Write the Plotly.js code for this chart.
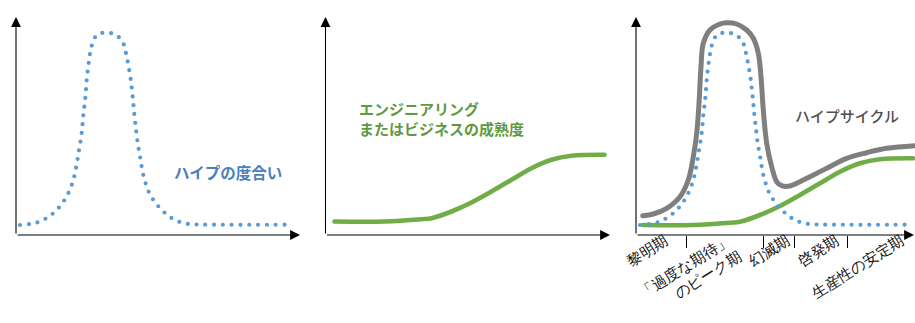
<!DOCTYPE html>
<html><head><meta charset="utf-8">
<script src="https://cdn.plot.ly/plotly-3.0.1.min.js"></script>
<style>
html,body{margin:0;padding:0;background:#fff}
#chart{width:915px;height:323px}
.js-line{stroke-linecap:round;stroke-linejoin:round}
</style>
</head><body><div id="chart"></div>
<script>
// ---- data (time units along x, level units along y) ----
const hypeT = [4, 21.7, 36.7, 48.3, 56, 60, 63, 65.7, 67.3, 69.3, 70.7, 72.7, 75.7, 80, 86, 92, 98, 103, 107.7, 110, 112.5, 114.7, 116.7, 118.3, 120.3, 122, 124.3, 127.3, 132.7, 137, 142.3, 148.7, 156, 163.7, 172.3, 181, 269];
const hypeV = [10, 12.7, 21.3, 34.7, 50.7, 67.3, 84.7, 102.3, 119.7, 137, 154.7, 172.3, 189.3, 199, 202, 202.3, 201, 197.7, 190.7, 181.7, 169, 155.7, 138, 121, 103.3, 90, 77.3, 60, 43.3, 35.7, 28.7, 22.3, 16.7, 13, 11, 10.5, 10.3];

const cycleT = [6.7, 17.3, 30.7, 44, 52.3, 57.3, 60.7, 63, 65, 67.3, 74, 84, 90.7, 100.7, 110.7, 117.3, 122.3, 125, 127.3, 130.7, 135.7, 140.7, 145.7, 154, 164, 174, 190.7, 210.7, 230.7, 250.7, 279];
const cycleV = [19.3, 21, 26.7, 38.3, 55, 78.3, 101.7, 131.7, 168.3, 191.7, 205, 211, 212.3, 211, 205, 196.7, 181.7, 158.3, 125, 91.7, 68.3, 53.3, 49.3, 49, 53.3, 58.3, 66.7, 76.7, 82.3, 86.7, 89.3];

const maturityT = [7, 57, 94, 104, 124, 144, 164, 184, 204, 224, 244, 277];
const maturityV = [10, 10, 12.3, 13.3, 20, 29, 40, 51.7, 63.3, 71.7, 75.7, 76.7];

const phaseBounds = [50, 127, 158.5, 211];
const phaseLabels = ['黎明期', '「過度な期待」<br>のピーク期', '幻滅期', '啓発期', '生産性の安定期'];
const phaseLabelAt = [29, 92, 151, 200, 265];

const hypeLabel = 'ハイプの度合い';
const maturityLabel = 'エンジニアリング<br>またはビジネスの成熟度';
const cycleLabel = 'ハイプサイクル';

// ---- styling / layout ----
const W = 915, H = 323;
const fx = p => p / W;
const fy = p => 1 - p / H;
const FONT = 'Noto Sans CJK JP';
const BLUE = '#5b9bd5', GREEN = '#70ad47', GRAY = '#7f7f7f';
const LABEL_ANGLE = -32, LABEL_SIZE = 15;

const dotLine = {color: BLUE, width: 4.2, dash: '0px,8.8px', shape: 'spline', smoothing: 1};
const greenLine = {color: GREEN, width: 4.6, shape: 'spline', smoothing: 1};
const grayLine = {color: GRAY, width: 5, shape: 'spline', smoothing: 1};

const traces = [
  {x: hypeT, y: hypeV, xaxis: 'x', yaxis: 'y', mode: 'lines', line: dotLine, hoverinfo: 'skip'},
  {x: maturityT, y: maturityV, xaxis: 'x2', yaxis: 'y2', mode: 'lines', line: greenLine, hoverinfo: 'skip'},
  {x: maturityT, y: maturityV, xaxis: 'x3', yaxis: 'y3', mode: 'lines', line: greenLine, hoverinfo: 'skip'},
  {x: cycleT, y: cycleV, xaxis: 'x3', yaxis: 'y3', mode: 'lines', line: grayLine, hoverinfo: 'skip'},
  {x: hypeT, y: hypeV, xaxis: 'x3', yaxis: 'y3', mode: 'lines', line: dotLine, hoverinfo: 'skip'},
  {x: [], y: [], xaxis: 'x4', yaxis: 'y3', mode: 'lines', hoverinfo: 'skip'}
];

const bare = {showgrid: false, zeroline: false, showline: false, showticklabels: false, ticks: ''};
const yDom = [fy(235), fy(17)];

const annotations = [];
// axes with arrowheads
function axisArrows(ox, oy, xTip, yTip) {
  const base = {xref: 'paper', yref: 'paper', axref: 'pixel', ayref: 'pixel', text: '', showarrow: true,
    xanchor: 'center', yanchor: 'middle',
    arrowhead: 2, arrowsize: 1.8, arrowwidth: 1.1, arrowcolor: '#000', font: {size: 1}, standoff: 0, startstandoff: 0};
  annotations.push(Object.assign({}, base, {x: fx(ox), y: fy(yTip), ax: 0, ay: oy - yTip}));
  annotations.push(Object.assign({}, base, {x: fx(xTip), y: fy(oy), ax: ox - xTip, ay: 0}));
}
axisArrows(16, 235, 300, 17);
axisArrows(325.5, 235, 610, 17);
axisArrows(636, 235, 923, 17);

const txt = {xref: 'paper', yref: 'paper', showarrow: false, xanchor: 'center', yanchor: 'middle'};
annotations.push(Object.assign({}, txt, {x: fx(228), y: fy(171.7), text: hypeLabel,
  font: {family: FONT, size: 15.5, color: '#4a80c2', weight: 'bold'}}));
annotations.push(Object.assign({}, txt, {x: fx(357), xanchor: 'left', y: fy(118.8), text: maturityLabel, align: 'left',
  font: {family: FONT, size: 15, color: '#5f9a3f', weight: 'bold'}}));
annotations.push(Object.assign({}, txt, {x: fx(846.5), y: fy(115), text: cycleLabel,
  font: {family: FONT, size: 15, color: '#505050', weight: 500}}));

const layout = {
  width: W, height: H,
  margin: {l: 0, r: 0, t: 0, b: 0, pad: 0},
  paper_bgcolor: '#fff', plot_bgcolor: 'rgba(0,0,0,0)',
  showlegend: false,
  xaxis: Object.assign({}, bare, {domain: [fx(16), fx(300)], range: [0, 284], anchor: 'y'}),
  yaxis: Object.assign({}, bare, {domain: yDom, range: [0, 218], anchor: 'x'}),
  xaxis2: Object.assign({}, bare, {domain: [fx(325.5), fx(610)], range: [-2, 282.5], anchor: 'y2'}),
  yaxis2: Object.assign({}, bare, {domain: yDom, range: [-3.5, 214.5], anchor: 'x2'}),
  xaxis3: Object.assign({}, bare, {domain: [fx(636), 1], range: [0, 279], anchor: 'y3',
    tickmode: 'array', tickvals: phaseBounds, ticks: 'outside', ticklen: 12, tickwidth: 1, tickcolor: '#000'}),
  xaxis4: Object.assign({}, bare, {overlaying: 'x3', anchor: 'y3', range: [0, 279],
    tickmode: 'array', tickvals: phaseLabelAt, ticktext: phaseLabels, showticklabels: true,
    tickangle: LABEL_ANGLE,
    tickfont: {size: LABEL_SIZE, color: '#111'}}),
  yaxis3: Object.assign({}, bare, {domain: yDom, range: [0, 218], anchor: 'x3'}),
  annotations: annotations
};

// make sure the phase tick labels carry their slant, anchored at their end
function slantPhaseLabels() {
  const gd = document.getElementById('chart');
  gd.querySelectorAll('g.x4tick text').forEach(el => {
    if (el.getAttribute('data-slanted')) return;
    const t = el.getAttribute('transform') || '';
    const m = t.match(/translate\(\s*([-\d.eE]+)(?:[\s,]+([-\d.eE]+))?\s*\)/);
    const tx = m ? +m[1] : 0, ty = (m && m[2]) ? +m[2] : 0;
    const x = +el.getAttribute('x') || 0, y = +el.getAttribute('y') || 0;
    el.setAttribute('text-anchor', 'end');
    el.setAttribute('transform',
      `translate(${tx},${ty - 7}) rotate(${LABEL_ANGLE},${x},${y - LABEL_SIZE / 2})`);
    el.setAttribute('data-slanted', '1');
  });
}

const p = Plotly.newPlot('chart', traces, layout, {displayModeBar: false});
try { slantPhaseLabels(); } catch (e) {}
Promise.resolve(p).then(slantPhaseLabels, slantPhaseLabels);
[50, 200, 600, 1200].forEach(ms => setTimeout(() => { try { slantPhaseLabels(); } catch (e) {} }, ms));
</script>
</body></html>
